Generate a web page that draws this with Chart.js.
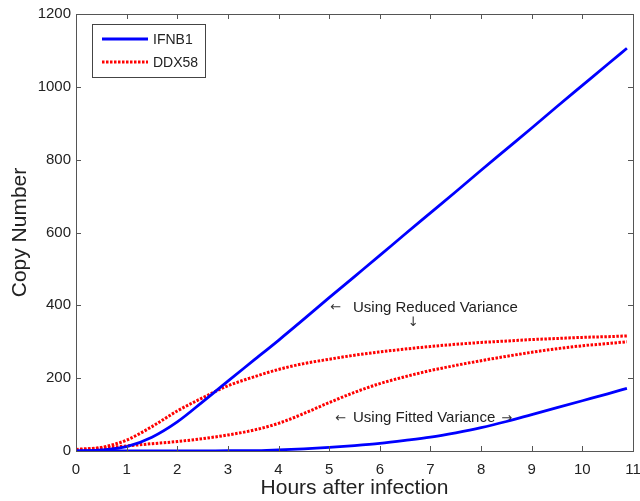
<!DOCTYPE html>
<html lang="en">
<head>
    <meta charset="UTF-8">
    <title>Copy Number</title>
    <style>
        body { margin: 0; background: #fff; }
    </style>
</head>
<body>
    <canvas id="chart" width="640" height="501"></canvas>

    <script src="https://cdn.jsdelivr.net/npm/chart.js"></script>
    <script>
        // Values
        const hours = [0, 0.5, 1, 1.5, 2, 2.5, 3, 3.5, 4, 4.5, 5, 5.5, 6, 6.5, 7, 7.5, 8, 8.5, 9, 9.5, 10, 10.5, 10.88];
        const ifnb1Reduced = [0, 3, 12, 38, 80, 135, 192, 248, 304, 362, 421, 479, 537, 596, 654, 712, 771, 829, 887, 946, 1004, 1062, 1106];
        const ifnb1Fitted = [0, 0, 0, 0, 0, 0, 1, 1, 3, 6, 10, 15, 21, 29, 38, 50, 64, 81, 100, 119, 138, 157, 172];
        const ddx58Reduced = [4, 10, 30, 67, 110, 146, 179, 203, 224, 240, 252, 263, 272, 280, 287, 293, 298, 302, 306, 309, 312, 314, 316];
        const ddx58Fitted = [4, 8, 14, 20, 26, 34, 44, 57, 76, 103, 133, 161, 185, 204, 221, 235, 248, 260, 271, 281, 289, 295, 300];
        const xTicks = [0, 1, 2, 3, 4, 5, 6, 7, 8, 9, 10, 11];
        const yTicks = [0, 200, 400, 600, 800, 1000, 1200];

        const BLUE = '#0000ff';
        const RED = '#ff0000';
        const FONT = 'Liberation Sans, Arial, sans-serif';

        const toPoints = ys => hours.map((h, i) => ({ x: h, y: ys[i] }));

        const blueStyle = { borderColor: BLUE, borderWidth: 2.8, borderDash: [] };
        const redStyle = { borderColor: RED, borderWidth: 3, borderDash: [2.5, 1.5] };

        // MATLAB style box with inward ticks on all sides, legend and notes
        const boxPlugin = {
            id: 'box',
            afterDraw(chart) {
                const ctx = chart.ctx;
                const a = chart.chartArea;
                const xs = chart.scales.x, ys = chart.scales.y;
                ctx.save();
                ctx.strokeStyle = '#555';
                ctx.lineWidth = 1;
                ctx.strokeRect(a.left + 0.5, a.top + 0.5, a.right - a.left, a.bottom - a.top);
                const tl = 5;
                ctx.beginPath();
                xTicks.forEach(v => {
                    const px = Math.round(xs.getPixelForValue(v)) + 0.5;
                    ctx.moveTo(px, a.bottom); ctx.lineTo(px, a.bottom - tl);
                    ctx.moveTo(px, a.top); ctx.lineTo(px, a.top + tl);
                });
                yTicks.forEach(v => {
                    const py = Math.round(ys.getPixelForValue(v)) + 0.5;
                    ctx.moveTo(a.left, py); ctx.lineTo(a.left + tl, py);
                    ctx.moveTo(a.right, py); ctx.lineTo(a.right - tl, py);
                });
                ctx.stroke();

                // legend
                const lx = a.left + 16, ly = a.top + 10;
                ctx.fillStyle = '#fff';
                ctx.fillRect(lx, ly, 113, 53);
                ctx.strokeStyle = '#444';
                ctx.strokeRect(lx + 0.5, ly + 0.5, 113, 53);
                const items = [['IFNB1', blueStyle], ['DDX58', redStyle]];
                items.forEach(([label, st], i) => {
                    const yy = ly + 15 + i * 23;
                    ctx.beginPath();
                    ctx.strokeStyle = st.borderColor;
                    ctx.lineWidth = st.borderWidth;
                    ctx.setLineDash(st.borderDash);
                    ctx.moveTo(lx + 10, yy); ctx.lineTo(lx + 56, yy);
                    ctx.stroke();
                    ctx.setLineDash([]);
                    ctx.fillStyle = '#222';
                    ctx.font = '14px ' + FONT;
                    ctx.textBaseline = 'middle';
                    ctx.fillText(label, lx + 61, yy + 1);
                });

                // notes
                ctx.fillStyle = '#222';
                ctx.textBaseline = 'middle';
                ctx.font = '15px ' + FONT;
                ctx.fillText('Using Reduced Variance', xs.getPixelForValue(5.47), ys.getPixelForValue(393));
                ctx.fillText('Using Fitted Variance', xs.getPixelForValue(5.47), ys.getPixelForValue(90));
                ctx.font = '13px DejaVu Sans, sans-serif';
                ctx.fillStyle = '#333';
                ctx.fillText('\u2190', xs.getPixelForValue(5.02), ys.getPixelForValue(393));
                ctx.fillText('\u2193', xs.getPixelForValue(6.55), ys.getPixelForValue(353));
                ctx.fillText('\u2190', xs.getPixelForValue(5.12), ys.getPixelForValue(90));
                ctx.fillText('\u2192', xs.getPixelForValue(8.4), ys.getPixelForValue(90));
                ctx.restore();
            }
        };

        new Chart(document.getElementById('chart'), {
            type: 'line',
            data: {
                datasets: [
                    { label: 'IFNB1', data: toPoints(ifnb1Reduced), ...blueStyle },
                    { label: 'IFNB1 fitted', data: toPoints(ifnb1Fitted), ...blueStyle },
                    { label: 'DDX58', data: toPoints(ddx58Reduced), ...redStyle },
                    { label: 'DDX58 fitted', data: toPoints(ddx58Fitted), ...redStyle }
                ]
            },
            options: {
                responsive: false,
                animation: false,
                layout: { padding: { top: 14, right: 7, left: 0, bottom: 0 } },
                elements: {
                    point: { radius: 0 },
                    line: { cubicInterpolationMode: 'monotone', fill: false }
                },
                plugins: { legend: { display: false }, tooltip: { enabled: false } },
                scales: {
                    x: {
                        type: 'linear', min: 0, max: 11,
                        afterBuildTicks: s => { s.ticks = xTicks.map(v => ({ value: v })); },
                        afterFit: s => { s.height = 50; s.paddingLeft = 0; s.paddingRight = 0; },
                        grid: { display: false, drawTicks: false },
                        border: { display: false },
                        ticks: { color: '#222', padding: 10, callback: v => String(v), font: { family: FONT, size: 15 } },
                        title: {
                            display: true, text: 'Hours after infection', color: '#222',
                            padding: { top: -4, bottom: 0 }, font: { family: FONT, size: 21 }
                        }
                    },
                    y: {
                        min: 0, max: 1200,
                        afterBuildTicks: s => { s.ticks = yTicks.map(v => ({ value: v })); },
                        afterFit: s => { s.width = 76; s.paddingTop = 0; s.paddingBottom = 0; },
                        grid: { display: false, drawTicks: false },
                        border: { display: false },
                        ticks: { color: '#222', padding: 5, callback: v => String(v), font: { family: FONT, size: 15 } },
                        title: {
                            display: true, text: 'Copy Number', color: '#222',
                            padding: { top: 8, bottom: 0 }, font: { family: FONT, size: 21 }
                        }
                    }
                }
            },
            plugins: [boxPlugin]
        });
    </script>
</body>
</html>
